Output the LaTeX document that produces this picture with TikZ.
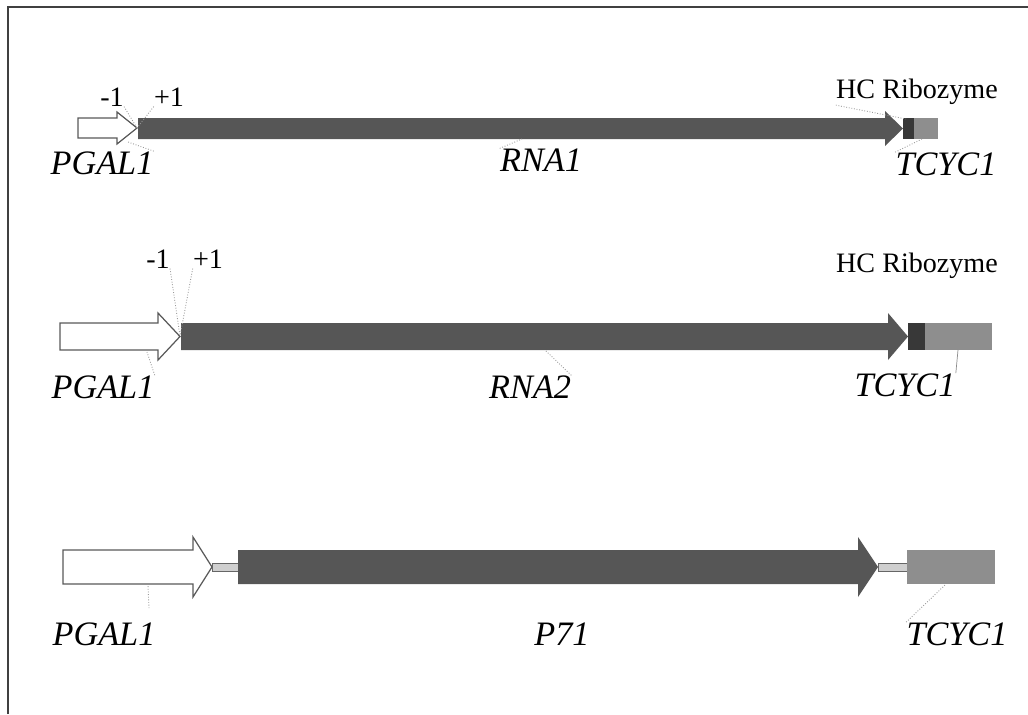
\documentclass[tikz,border=0pt]{standalone}
\usepackage{fontspec}
\setmainfont{Liberation Serif}
\usetikzlibrary{positioning}
\definecolor{cdsgray}{HTML}{565656}
\definecolor{rzgray}{HTML}{383838}
\definecolor{termgray}{HTML}{8E8E8E}
\definecolor{linkgray}{HTML}{CFCFCF}

\begin{document}
\begin{tikzpicture}[
  x=0.02cm, y=-0.02cm,
  num/.style={font=\fontsize{16}{19}\selectfont, inner sep=0pt},
  gname/.style={font=\fontsize{19.5}{23}\selectfont\itshape, inner sep=0pt},
  prom/.style={draw=black!65, fill=white, line width=0.7pt},
  cds/.style={fill=cdsgray},
  rz/.style={fill=rzgray},
  term/.style={fill=termgray},
  link/.style={fill=linkgray, draw=black!60, line width=0.4pt},
  lead/.style={black!40, densely dotted, line width=0.5pt}
]
\useasboundingbox (0,0) rectangle (1028,714);
\draw[black!75, line width=1pt] (8,714) -- (8,7) -- (1028,7);

% construct 1 : PGAL1 - RNA1 - ribozyme - TCYC1
\draw[prom] (78,118) -- (117,118) -- (117,112) -- (137,128) -- (117,144) -- (117,138) -- (78,138) -- cycle;
\fill[cds] (138,118) -- (885,118) -- (885,111) -- (903,128.5) -- (885,146) -- (885,139) -- (138,139) -- cycle;
\fill[rz] (903,118) rectangle (914,139);
\fill[term] (914,118) rectangle (938,139);
\coordinate (tipA) at (137,128);
\coordinate (rzA) at (906,119);
\coordinate (termA) at (922,139);
\coordinate (cdsA) at (522,139);
\coordinate (promA) at (128,142);

\node[num] (minA) at (112,97) {-1};
\node[num] (plusA) at (169,97) {+1};
\node[num] (hcA) at (917,92) {HC Ribozyme};
\node[gname] (pgalA) at (102,163) {PGAL1};
\node[gname] (rnaA) at (541,160) {RNA1};
\node[gname] (tcycA) at (946,164) {TCYC1};

\draw[lead] (minA.south east) -- (tipA);
\draw[lead] (plusA.south west) -- (tipA);
\draw[lead] (pgalA.north east) -- (promA);
\draw[lead] (hcA.south west) -- (rzA);
\draw[lead] (tcycA.north west) -- (termA);
\draw[lead] (rnaA.north west) -- (cdsA);

% construct 2 : PGAL1 - RNA2 - ribozyme - TCYC1
\draw[prom] (60,323) -- (158,323) -- (158,313) -- (180,336.5) -- (158,360) -- (158,350) -- (60,350) -- cycle;
\fill[cds] (181,323) -- (888,323) -- (888,313) -- (908,336.5) -- (888,360) -- (888,350) -- (181,350) -- cycle;
\fill[rz] (908,323) rectangle (925,350);
\fill[term] (925,323) rectangle (992,350);
\coordinate (tipB) at (180,336);
\coordinate (termB) at (958,350);
\coordinate (cdsB) at (545,350);
\coordinate (promB) at (147,352);

\node[num] (minB) at (158,259) {-1};
\node[num] (plusB) at (208,259) {+1};
\node[num] (hcB) at (917,266) {HC Ribozyme};
\node[gname] (pgalB) at (103,387) {PGAL1};
\node[gname] (rnaB) at (530,387) {RNA2};
\node[gname] (tcycB) at (905,385) {TCYC1};

\draw[lead] (minB.south east) -- (tipB);
\draw[lead] (plusB.south west) -- (tipB);
\draw[lead] (pgalB.north east) -- (promB);
\draw[lead] (rnaB.north east) -- (cdsB);
\draw[black!45, line width=0.4pt] (tcycB.north east) -- (termB);

% construct 3 : PGAL1 - P71 - TCYC1
\draw[prom] (63,550) -- (193,550) -- (193,537) -- (212,567) -- (193,597) -- (193,584) -- (63,584) -- cycle;
\draw[link] (212,563) rectangle (238,571);
\fill[cds] (238,550) -- (858,550) -- (858,537) -- (878,567) -- (858,597) -- (858,584) -- (238,584) -- cycle;
\draw[link] (878,563) rectangle (907,571);
\fill[term] (907,550) rectangle (995,584);
\coordinate (promC) at (148,585);
\coordinate (termC) at (945,585);

\node[gname] (pgalC) at (104,634) {PGAL1};
\node[gname] (pC) at (562,634) {P71};
\node[gname] (tcycC) at (957,634) {TCYC1};

\draw[lead] (pgalC.north) ++(45,-14) coordinate (pgalCl) -- (promC);
\draw[lead] (tcycC.north west) -- (termC);
\end{tikzpicture}
\end{document}
